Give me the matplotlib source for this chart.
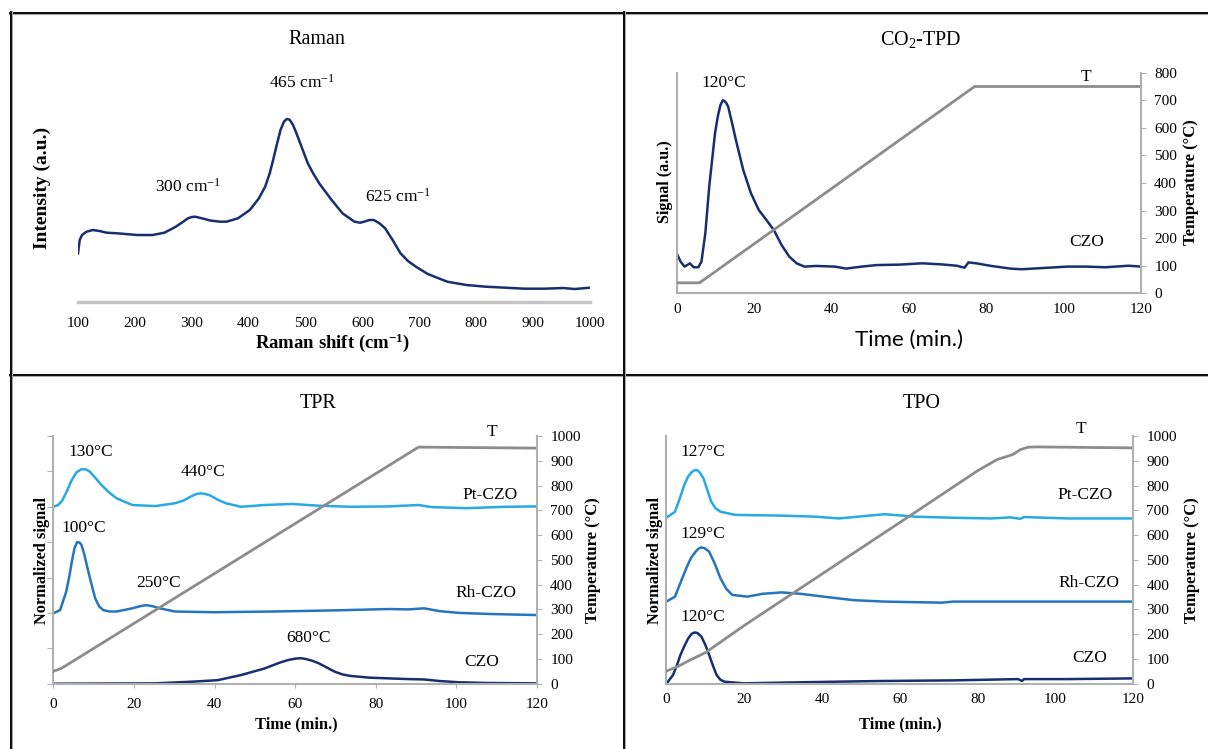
import numpy as np
import matplotlib
matplotlib.use("Agg")
import matplotlib.pyplot as plt
from matplotlib.lines import Line2D

plt.rcParams['font.family'] = ['Liberation Serif', 'DejaVu Serif']
plt.rcParams['mathtext.fontset'] = 'custom'
plt.rcParams['mathtext.rm'] = 'Liberation Serif'
plt.rcParams['mathtext.it'] = 'Liberation Serif:italic'
plt.rcParams['mathtext.bf'] = 'Liberation Serif:bold'
plt.rcParams['lines.solid_joinstyle'] = 'round'

# ---- Raman spectrum (cm-1, a.u.)
raman_shift = [100, 103, 107, 115, 126, 138, 150, 170, 204, 231, 252, 272, 285, 293, 300,
               306, 318, 334, 350, 361, 381, 402, 418, 429, 437, 443, 450, 456, 462, 467,
               472, 478, 484, 494, 504, 514, 524, 545, 565, 586, 596, 603, 612, 620, 630,
               640, 653, 667, 680, 694, 715, 749, 783, 817, 851, 885, 919, 953, 973, 1000]
raman_int = [145, 185, 200, 210, 215, 212, 207, 205, 200, 200, 207, 225, 240, 250, 254,
             255, 250, 243, 240, 240, 250, 275, 310, 345, 385, 425, 475, 515, 540, 548,
             546, 530, 505, 460, 415, 383, 355, 307, 265, 240, 237, 240, 245, 245, 235,
             220, 185, 145, 122, 105, 83, 60, 50, 45, 42, 39, 39, 41, 38, 42]

# ---- CO2-TPD
tpd_t = [0, 1, 2, 3, 3.4, 4.4, 5.6, 6.4, 7.4, 8.4, 9.9, 10.6, 11.3, 11.9, 12.3, 12.8, 13.3,
         14.2, 15.3, 17.2, 19.2, 21.2, 23.2, 25.1, 27.1, 29.1, 31.0, 33.0, 36.0, 40.9, 43.8,
         47.8, 51.7, 57.6, 63.5, 68.5, 72.4, 74.4, 75.4, 77.4, 81.3, 86.2, 89.2, 96.0, 101,
         105.9, 110.8, 116.8, 120]
tpd_sig = [18.1, 14.4, 12.1, 13.1, 13.6, 11.8, 11.8, 14.4, 27.2, 48.3, 72.5, 80.0, 85.3,
           87.5, 87.2, 86.3, 84.6, 78.0, 69.5, 55.9, 45.3, 37.8, 33.2, 28.7, 21.9, 16.6,
           13.6, 12.1, 12.4, 12.1, 11.2, 12.1, 12.8, 13.0, 13.6, 13.1, 12.5, 11.6, 14.0,
           13.6, 12.4, 11.2, 10.9, 11.6, 12.1, 12.1, 11.8, 12.5, 12.1]
tpd_T_t = [0, 5.9, 77, 120]
tpd_T = [38, 38, 750, 750]

# ---- TPR
tpr_T_t = [0, 2, 5, 90.6, 92, 120]
tpr_T = [50, 62, 92, 955, 955, 951]
tpr_czo_t = [0, 25.4, 35.0, 40.8, 46.6, 52.4, 56.3, 58.3, 60.1, 61.4, 62.6, 64.2, 65.9,
             69.8, 71.8, 73.7, 78.5, 83.3, 88.1, 92.0, 95.9, 100.7, 107.4, 120]
tpr_czo = [0, 0.01, 0.06, 0.10, 0.245, 0.43, 0.60, 0.67, 0.71, 0.72, 0.70, 0.65, 0.575,
           0.34, 0.26, 0.22, 0.17, 0.15, 0.13, 0.12, 0.075, 0.04, 0.02, 0.01]
tpr_rh_t = [0, 1.7, 3.2, 4.0, 4.6, 5.3, 5.9, 6.5, 7.0, 7.7, 8.5, 9.5, 10.4, 11.4, 12.4, 14.0,
            15.7, 19.6, 21.5, 23.0, 24.6, 26.4, 30.2, 39.9, 54.4, 68.8, 83.3, 88.1, 92.0,
            95.9, 100.7, 108.4, 120]
tpr_rh = [1.99, 2.08, 2.60, 3.05, 3.45, 3.85, 4.0, 3.99, 3.92, 3.65, 3.26, 2.80, 2.41, 2.18,
          2.08, 2.04, 2.04, 2.13, 2.19, 2.22, 2.19, 2.13, 2.04, 2.02, 2.04, 2.07, 2.11, 2.10,
          2.13, 2.05, 2.0, 1.97, 1.94]
tpr_pt_t = [0, 1.2, 2.2, 3.4, 4.6, 5.8, 7.0, 8.0, 9.0, 10.4, 11.9, 13.8, 15.7, 19.6, 25.4,
            30.2, 32.4, 34.1, 35.5, 36.7, 37.8, 38.9, 40.8, 42.8, 46.6, 52.4, 59.2, 65.9,
            73.7, 83.3, 90.6, 93.9, 102.6, 112.3, 120]
tpr_pt = [5.0, 5.05, 5.17, 5.45, 5.76, 5.98, 6.06, 6.06, 6.0, 5.82, 5.62, 5.41, 5.24, 5.05,
          5.02, 5.10, 5.18, 5.29, 5.36, 5.38, 5.36, 5.32, 5.20, 5.10, 5.0, 5.05, 5.08, 5.03,
          5.0, 5.01, 5.05, 4.99, 4.96, 5.0, 5.01]

# ---- TPO
tpo_T_t = [0, 3, 6, 10, 20, 32.5, 45, 62.9, 80, 85, 87, 89, 91, 93, 95, 120]
tpo_T = [51, 70, 95, 125, 235, 365, 495, 681, 860, 905, 915, 925, 945, 955, 956, 952]
tpo_czo_t = [0, 1.7, 2.7, 3.6, 4.6, 5.6, 6.5, 7.3, 8.0, 9.0, 10.0, 11.0, 12.0, 12.9, 13.9,
             14.9, 19.8, 34.5, 54.1, 73.7, 90.4, 91.4, 91.9, 103.1, 120]
tpo_czo = [0, 0.245, 0.52, 0.81, 1.06, 1.28, 1.41, 1.45, 1.43, 1.33, 1.10, 0.81, 0.50,
           0.245, 0.11, 0.057, 0.01, 0.04, 0.075, 0.094, 0.13, 0.075, 0.13, 0.13, 0.15]
tpo_rh_t = [0, 2.2, 3.6, 5.1, 6.3, 7.5, 8.3, 9.0, 9.8, 11.0, 12.4, 13.9, 15.4, 16.9, 20.8,
            24.7, 29.6, 34.5, 40.4, 48.2, 56.1, 70.8, 73.7, 120]
tpo_rh = [2.32, 2.46, 2.85, 3.26, 3.55, 3.73, 3.82, 3.85, 3.83, 3.73, 3.40, 2.98, 2.68,
          2.51, 2.46, 2.54, 2.58, 2.54, 2.46, 2.36, 2.32, 2.29, 2.32, 2.32]
tpo_pt_t = [0, 2.2, 3.4, 4.6, 5.6, 6.6, 7.2, 7.8, 8.5, 9.5, 10.5, 11.5, 12.6, 13.9, 17.8,
            29.6, 38.4, 44.3, 49.2, 56.1, 63.9, 73.7, 83.5, 88.4, 90.9, 91.9, 103.1, 120]
tpo_pt = [4.69, 4.86, 5.22, 5.62, 5.86, 5.99, 6.03, 6.04, 5.98, 5.81, 5.48, 5.15, 4.96,
          4.86, 4.77, 4.75, 4.72, 4.67, 4.72, 4.79, 4.72, 4.69, 4.67, 4.70, 4.66, 4.71,
          4.67, 4.67]

NAVY = '#172f6e'
MID = '#2474bf'
LIGHT = '#25aae3'
TGRAY = '#8c8c8c'
AXGRAY = '#b0b0b0'

W, H = 1208, 749
fig = plt.figure(figsize=(W / 100, H / 100), dpi=100)


def px_rect(x0, x1, ytop, ybot):
    return [x0 / W, 1 - ybot / H, (x1 - x0) / W, (ybot - ytop) / H]


def ftext(x, y, s, **kw):
    fig.text(x / W, 1 - y / H, s, ha='center', va='center', **kw)


def style_axes(ax, left_ticks=False, xtick_len=0):
    for s in ['top', 'right']:
        ax.spines[s].set_visible(False)
    for s in ['left', 'bottom']:
        ax.spines[s].set_color(AXGRAY)
        ax.spines[s].set_linewidth(1.5)
    ax.tick_params(axis='x', length=xtick_len, color=AXGRAY, labelsize=11, pad=7)
    ax.tick_params(axis='y', length=4 if left_ticks else 0, color=AXGRAY, labelleft=False)
    ax.set_xlim(0, 120)
    ax.set_xticks(range(0, 121, 20))


def style_temp(ax2, top):
    for s in ['top', 'left', 'bottom']:
        ax2.spines[s].set_visible(False)
    ax2.spines['right'].set_color(AXGRAY)
    ax2.spines['right'].set_linewidth(1.5)
    ax2.set_ylim(0, top)
    ax2.set_yticks(range(0, top + 1, 100))
    ax2.tick_params(axis='y', length=3.5, color=AXGRAY, labelsize=11, pad=6)


# ---------------- Raman
ax = fig.add_axes(px_rect(78, 590, 100, 301.7))
ax.plot(raman_shift, raman_int, color=NAVY, lw=1.8)
ax.set_xlim(100, 1000)
ax.set_ylim(0, 605)
for s in ['top', 'right', 'left']:
    ax.spines[s].set_visible(False)
ax.spines['bottom'].set_color('#c4c4c4')
ax.spines['bottom'].set_linewidth(2.5)
ax.set_xticks(range(100, 1001, 100))
ax.set_yticks([])
ax.tick_params(axis='x', length=0, labelsize=11, pad=11)
ax.text(493, 657, '465 cm$^{-1}$', ha='center', va='center', fontsize=12.5, clip_on=False)
ax.text(293, 344, '300 cm$^{-1}$', ha='center', va='center', fontsize=12.5)
ax.text(662, 314, '625 cm$^{-1}$', ha='center', va='center', fontsize=12.5)
ftext(317, 40, 'Raman', fontsize=14.5)
ftext(42, 188, 'Intensity (a.u.)', fontsize=14, fontweight='bold', rotation=90)
ftext(333, 343, r'Raman shift (cm$^{\mathbf{-1}}$)', fontsize=13.5, fontweight='bold')

# ---------------- CO2-TPD
ax = fig.add_axes(px_rect(676.7, 1141, 72.7, 293.3))
style_axes(ax)
ax.set_ylim(0, 100)
ax.plot(tpd_t, tpd_sig, color=NAVY, lw=1.8)
ax2 = ax.twinx()
style_temp(ax2, 800)
ax2.plot(tpd_T_t, tpd_T, color=TGRAY, lw=2)
ax2.text(12.1, 762, '120°C', ha='center', va='center', fontsize=12.5)
ax2.text(105.8, 784, 'T', ha='center', va='center', fontsize=12.5)
ax2.text(106, 186, 'CZO', ha='center', va='center', fontsize=12.5)
ftext(921, 40, 'CO$_2$-TPD', fontsize=14.5)
ftext(665, 182, 'Signal (a.u.)', fontsize=11.5, fontweight='bold', rotation=90)
ftext(1191, 182, 'Temperature (°C)', fontsize=12, fontweight='bold', rotation=90)
ftext(909, 340, 'Time (min.)', fontsize=16, family=['Lato', 'DejaVu Sans'])

# ---------------- TPR
ax = fig.add_axes(px_rect(53.3, 537, 436, 683.7))
style_axes(ax, left_ticks=True, xtick_len=3)
ax.set_ylim(0, 7)
ax.set_yticks(range(0, 8))
ax.plot(tpr_czo_t, tpr_czo, color=NAVY, lw=1.8)
ax.plot(tpr_rh_t, tpr_rh, color=MID, lw=1.8)
ax.plot(tpr_pt_t, tpr_pt, color=LIGHT, lw=1.8)
ax2 = ax.twinx()
style_temp(ax2, 1000)
ax2.plot(tpr_T_t, tpr_T, color=TGRAY, lw=2)
for t, T, s in [(9.25, 937, '130°C'), (37.1, 856, '440°C'), (108.3, 762, 'Pt-CZO'),
                (7.5, 630, '100°C'), (26.0, 406, '250°C'), (107.3, 367, 'Rh-CZO'),
                (63.4, 184, '680°C'), (106.3, 88, 'CZO'), (108.8, 1016, 'T')]:
    ax2.text(t, T, s, ha='center', va='center', fontsize=12.5, clip_on=False)
ftext(318, 403, 'TPR', fontsize=14.5)
ftext(42, 560, 'Normalized signal', fontsize=11.8, fontweight='bold', rotation=90)
ftext(593, 560, 'Temperature (°C)', fontsize=12, fontweight='bold', rotation=90)
ftext(296, 724, 'Time (min.)', fontsize=11.8, fontweight='bold')

# ---------------- TPO
ax = fig.add_axes(px_rect(666.4, 1133.3, 436, 683.7))
style_axes(ax)
ax.set_ylim(0, 7)
ax.plot(tpo_czo_t, tpo_czo, color=NAVY, lw=1.8)
ax.plot(tpo_rh_t, tpo_rh, color=MID, lw=1.8)
ax.plot(tpo_pt_t, tpo_pt, color=LIGHT, lw=1.8)
ax2 = ax.twinx()
style_temp(ax2, 1000)
ax2.plot(tpo_T_t, tpo_T, color=TGRAY, lw=2)
for t, T, s in [(9.3, 937, '127°C'), (107.6, 762, 'Pt-CZO'), (9.3, 604, '129°C'),
                (108.5, 406, 'Rh-CZO'), (9.3, 269, '120°C'), (108.9, 105, 'CZO'),
                (106.6, 1028, 'T')]:
    ax2.text(t, T, s, ha='center', va='center', fontsize=12.5, clip_on=False)
ftext(922, 403, 'TPO', fontsize=14.5)
ftext(655, 560, 'Normalized signal', fontsize=11.8, fontweight='bold', rotation=90)
ftext(1191.6, 560, 'Temperature (°C)', fontsize=12, fontweight='bold', rotation=90)
ftext(900, 724, 'Time (min.)', fontsize=11.8, fontweight='bold')

# ---------------- table frame
def hline(y, x0, x1):
    for c, w in [('#a8a8a8', 2.2), ('black', 1.3)]:
        fig.add_artist(Line2D([x0 / W, x1 / W], [1 - y / H, 1 - y / H],
                              transform=fig.transFigure, color=c, lw=w))


def vline(x, y0, y1):
    for c, w in [('#a8a8a8', 2.2), ('black', 1.3)]:
        fig.add_artist(Line2D([x / W, x / W], [1 - y0 / H, 1 - y1 / H],
                              transform=fig.transFigure, color=c, lw=w))


hline(12.5, 10, W)
hline(374.7, 10, W)
vline(10.5, 12, H)
vline(623.5, 12, H)

fig.savefig('out.png', dpi=100, facecolor='white')
